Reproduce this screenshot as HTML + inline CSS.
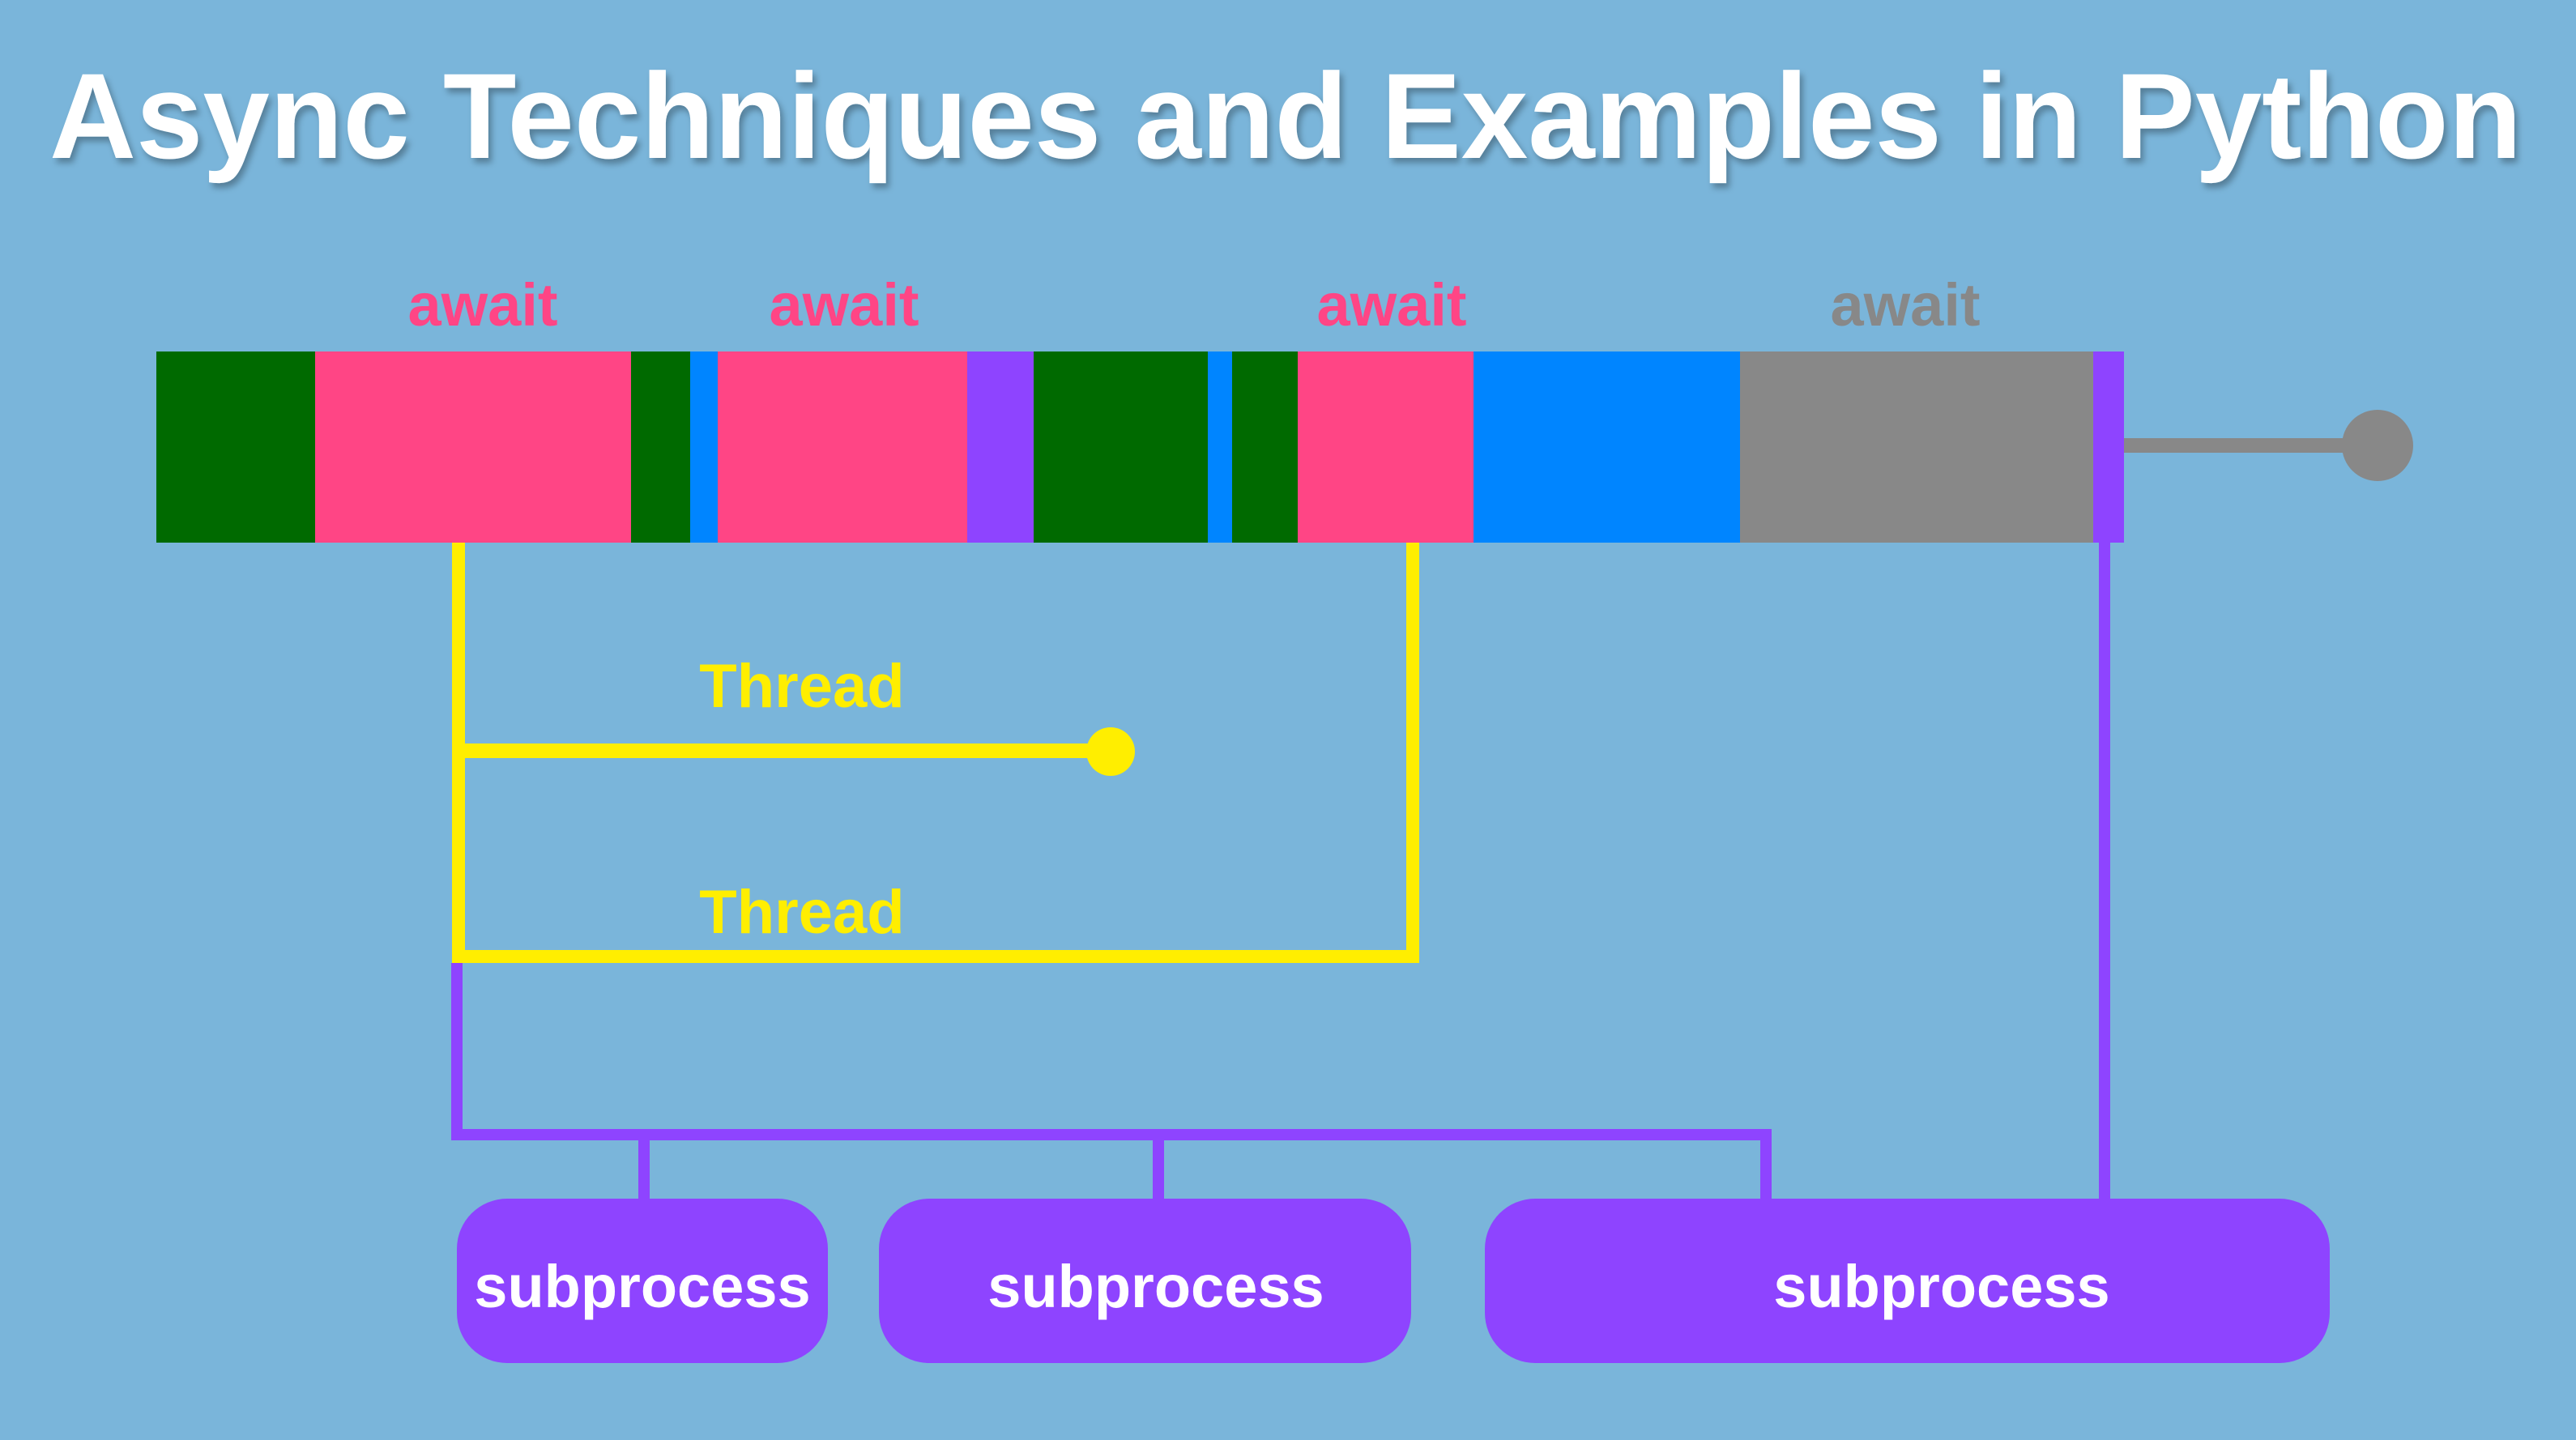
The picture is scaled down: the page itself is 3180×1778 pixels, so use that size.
<!DOCTYPE html>
<html><head><meta charset="utf-8"><style>
html,body{margin:0;padding:0;background:#7ab5da;}
svg{display:block}
text{font-family:"Liberation Sans",sans-serif;font-weight:bold;}
</style></head><body>
<svg width="3180" height="1778" viewBox="0 0 3180 1778" xmlns="http://www.w3.org/2000/svg">
<defs><filter id="sh" x="-5%" y="-20%" width="110%" height="140%"><feDropShadow dx="4" dy="6" stdDeviation="4" flood-color="#000" flood-opacity="0.3"/></filter></defs>
<rect width="3180" height="1778" fill="#7ab5da"/>
<text x="61" y="195" font-size="150" fill="#fff" textLength="3052" lengthAdjust="spacingAndGlyphs" filter="url(#sh)">Async Techniques and Examples in Python</text>

<g font-size="74" text-anchor="middle">
<text x="596" y="402" fill="#ff4585">await</text>
<text x="1042" y="402" fill="#ff4585">await</text>
<text x="1718" y="402" fill="#ff4585">await</text>
<text x="2352" y="402" fill="#888">await</text>
</g>

<g>
<rect x="193" y="434" width="196" height="236" fill="#006a00"/>
<rect x="389" y="434" width="390" height="236" fill="#ff4585"/>
<rect x="779" y="434" width="73" height="236" fill="#006a00"/>
<rect x="852" y="434" width="34" height="236" fill="#0085ff"/>
<rect x="886" y="434" width="308" height="236" fill="#ff4585"/>
<rect x="1194" y="434" width="82" height="236" fill="#8e44ff"/>
<rect x="1276" y="434" width="215" height="236" fill="#006a00"/>
<rect x="1491" y="434" width="30" height="236" fill="#0085ff"/>
<rect x="1521" y="434" width="81" height="236" fill="#006a00"/>
<rect x="1602" y="434" width="217" height="236" fill="#ff4585"/>
<rect x="1819" y="434" width="329" height="236" fill="#0085ff"/>
<rect x="2148" y="434" width="436" height="236" fill="#888"/>
<rect x="2584" y="434" width="38" height="236" fill="#8e44ff"/>
</g>
<rect x="2622" y="541" width="300" height="18" fill="#888"/>
<circle cx="2935" cy="550" r="44" fill="#888"/>

<!-- yellow -->
<g fill="#ffee00">
<rect x="558" y="670" width="16" height="519"/>
<rect x="1736" y="670" width="16" height="519"/>
<rect x="558" y="1173" width="1194" height="16"/>
<rect x="558" y="918" width="800" height="18"/>
<circle cx="1371" cy="928" r="30"/>
</g>
<g font-size="76" fill="#ffee00" text-anchor="middle">
<text x="990" y="873">Thread</text>
<text x="990" y="1152">Thread</text>
</g>

<!-- purple -->
<g fill="#8e44ff">
<rect x="557" y="1189" width="14" height="219"/>
<rect x="557" y="1394" width="1630" height="14"/>
<rect x="788" y="1394" width="14" height="90"/>
<rect x="1423" y="1394" width="14" height="90"/>
<rect x="2173" y="1394" width="14" height="90"/>
<rect x="2591" y="670" width="14" height="814"/>
<rect x="564" y="1480" width="458" height="203" rx="62"/>
<rect x="1085" y="1480" width="657" height="203" rx="62"/>
<rect x="1833" y="1480" width="1043" height="203" rx="62"/>
</g>
<g font-size="74" fill="#fff" text-anchor="middle">
<text x="793" y="1614">subprocess</text>
<text x="1427" y="1614">subprocess</text>
<text x="2397" y="1614">subprocess</text>
</g>
</svg>
</body></html>
